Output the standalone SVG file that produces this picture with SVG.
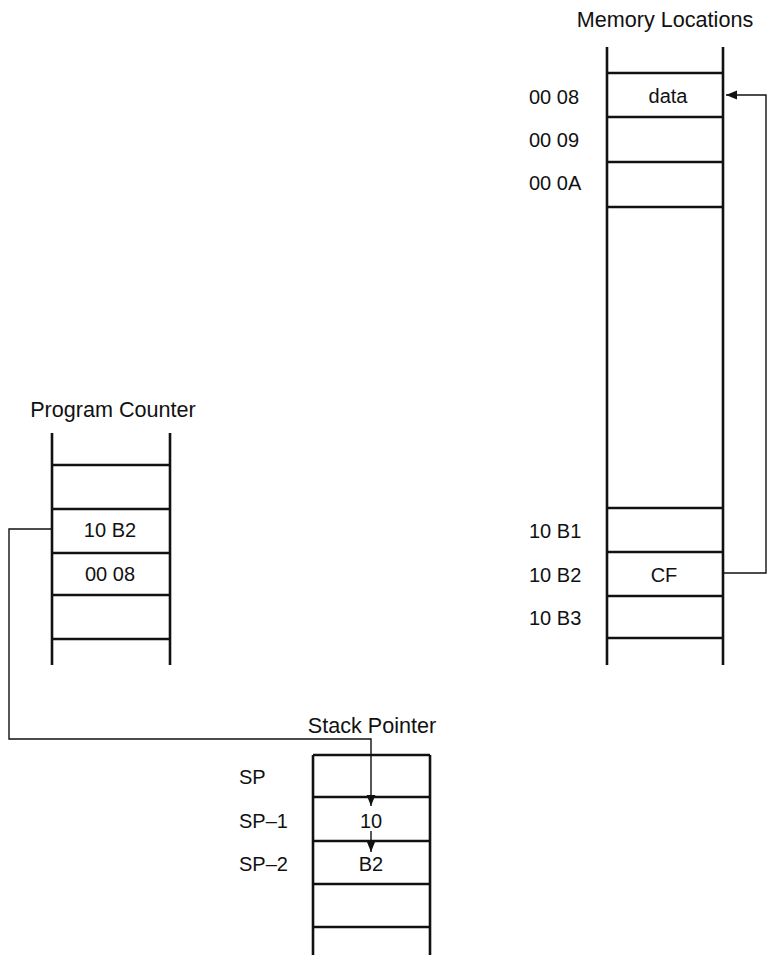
<svg xmlns="http://www.w3.org/2000/svg" width="769" height="958" viewBox="0 0 769 958">
<defs>
<style>
text{font-family:"Liberation Sans",Arial,sans-serif;font-size:20px;fill:#111}
.c{text-anchor:middle}
.t{font-size:21.6px}
.rail{stroke:#111;stroke-width:2.6;fill:none}
.rung{stroke:#111;stroke-width:2.5;fill:none}
.conn{stroke:#111;stroke-width:1.4;fill:none}
</style>
<marker id="ah" viewBox="0 0 10 10" refX="10" refY="5" markerWidth="11" markerHeight="11" markerUnits="userSpaceOnUse" orient="auto">
<path d="M0,1 L10,5 L0,9 Z" fill="#111"/>
</marker>
</defs>
<rect width="769" height="958" fill="#fff"/>

<g id="memory">
<text class="c t" x="665" y="27">Memory Locations</text>
<line class="rail" x1="607" y1="47" x2="607" y2="665"/>
<line class="rail" x1="723" y1="47" x2="723" y2="665"/>
<line class="rung" x1="607" y1="73" x2="723" y2="73"/>
<line class="rung" x1="607" y1="117" x2="723" y2="117"/>
<line class="rung" x1="607" y1="162" x2="723" y2="162"/>
<line class="rung" x1="607" y1="207" x2="723" y2="207"/>
<line class="rung" x1="607" y1="508" x2="723" y2="508"/>
<line class="rung" x1="607" y1="552" x2="723" y2="552"/>
<line class="rung" x1="607" y1="596" x2="723" y2="596"/>
<line class="rung" x1="607" y1="638" x2="723" y2="638"/>
<text x="529" y="104">00 08</text>
<text x="529" y="147">00 09</text>
<text x="529" y="190">00 0A</text>
<text x="529" y="538">10 B1</text>
<text x="529" y="582">10 B2</text>
<text x="529" y="625">10 B3</text>
<text class="c" x="668" y="103">data</text>
<text class="c" x="664" y="582">CF</text>
</g>

<g id="program-counter">
<text class="c t" x="113" y="417">Program Counter</text>
<line class="rail" x1="52" y1="433" x2="52" y2="665"/>
<line class="rail" x1="170" y1="433" x2="170" y2="665"/>
<line class="rung" x1="52" y1="465" x2="170" y2="465"/>
<line class="rung" x1="52" y1="509" x2="170" y2="509"/>
<line class="rung" x1="52" y1="553" x2="170" y2="553"/>
<line class="rung" x1="52" y1="595" x2="170" y2="595"/>
<line class="rung" x1="52" y1="639" x2="170" y2="639"/>
<text class="c" x="110" y="537">10 B2</text>
<text class="c" x="110" y="581">00 08</text>
</g>

<g id="stack-pointer">
<text class="c t" x="372" y="733">Stack Pointer</text>
<line class="rail" x1="313" y1="755" x2="313" y2="955"/>
<line class="rail" x1="430" y1="755" x2="430" y2="955"/>
<line class="rung" x1="313" y1="755" x2="430" y2="755"/>
<line class="rung" x1="313" y1="797" x2="430" y2="797"/>
<line class="rung" x1="313" y1="841" x2="430" y2="841"/>
<line class="rung" x1="313" y1="884" x2="430" y2="884"/>
<line class="rung" x1="313" y1="927" x2="430" y2="927"/>
<text x="239" y="784">SP</text>
<text x="239" y="828">SP–1</text>
<text x="239" y="871">SP–2</text>
<text class="c" x="371" y="828">10</text>
<text class="c" x="371" y="871">B2</text>
</g>

<g id="connectors">
<path class="conn" d="M723,573 H766 V95 H726" marker-end="url(#ah)"/>
<path class="conn" d="M52,529 H9 V739 H371 V806" marker-end="url(#ah)"/>
<path class="conn" d="M371,831 V852" marker-end="url(#ah)"/>
</g>
</svg>
